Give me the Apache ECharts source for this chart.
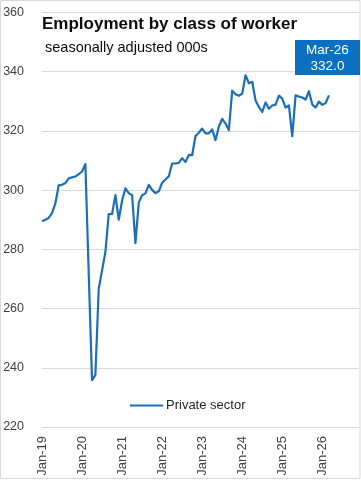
<!DOCTYPE html>
<html><head><meta charset="utf-8">
<script src="https://cdn.jsdelivr.net/npm/echarts@6/dist/echarts.min.js"></script>
<style>html,body{margin:0;padding:0;background:#fff}#c{width:361px;height:481px}</style>
</head><body><div id="c"></div>
<script>
var titleText = "Employment by class of worker";
var subtitleText = "seasonally adjusted 000s";
var seriesName = "Private sector";
var monthNames = ["Jan","Feb","Mar","Apr","May","Jun","Jul","Aug","Sep","Oct","Nov","Dec"];
var startYear = 2019, endYear = 2026;
var yTicks = [220, 240, 260, 280, 300, 320, 340, 360];
var privateSector = [
  289.5, 290.0, 290.6, 292.2, 295.5, 301.6, 301.8, 302.4, 304.0, 304.3, 304.6, 305.4,
  306.3, 308.8, 272.0, 235.8, 237.6, 266.7, 272.9, 279.1, 291.9, 292.0, 298.3, 290.0,
  296.5, 300.6, 299.0, 298.3, 282.1, 295.8, 298.3, 298.9, 301.8, 300.1, 299.0, 299.6,
  302.5, 303.6, 304.7, 309.0, 309.0, 309.2, 310.8, 309.5, 311.9, 311.8, 318.3, 319.4,
  320.8, 319.2, 319.2, 320.5, 316.9, 321.4, 324.1, 322.5, 320.3, 333.6, 332.4, 331.9,
  332.6, 338.8, 336.1, 336.6, 330.3, 328.1, 326.4, 329.6, 327.5, 328.6, 328.9, 331.9,
  330.9, 327.9, 328.6, 318.2, 332.0, 331.6, 331.3, 330.6, 333.4, 328.9, 327.9, 329.9,
  328.8, 329.4, 332.0
];

var categories = [];
for (var y = startYear; y <= endYear; y++) {
  for (var m = 0; m < 12; m++) categories.push(monthNames[m] + "-" + String(y).slice(2));
}
var lastIdx = privateSector.length - 1;
var lastLabel = categories[lastIdx];
var lastValue = privateSector[lastIdx].toFixed(1);

var chart = echarts.init(document.getElementById('c'), null, {renderer: 'canvas'});
var font = "'Liberation Sans', Arial, sans-serif";
chart.setOption({
  animation: false,
  textStyle: {fontFamily: font},
  title: [
    {text: titleText, left: 42, top: 16, padding: 0, textStyle: {fontSize: 17, fontWeight: 'bold', color: '#0d0d0d', fontFamily: font}},
    {text: subtitleText, left: 45, top: 40, padding: 0, textStyle: {fontSize: 14.5, fontWeight: 'normal', color: '#0d0d0d', fontFamily: font}}
  ],
  grid: {left: 42, right: 2, top: 12.5, bottom: 54, containLabel: false},
  legend: {
    data: [seriesName], left: 130, top: 399, padding: 0, icon: 'rect', itemWidth: 33, itemHeight: 2, itemGap: 4,
    textStyle: {fontSize: 13, color: '#262626', fontFamily: font, padding: [0,0,0,-2]}
  },
  xAxis: {
    type: 'category', data: categories, boundaryGap: false,
    axisLine: {show: false}, axisTick: {show: false},
    axisLabel: {
      rotate: 90, margin: 9, fontSize: 13, color: '#404040', fontFamily: font,
      interval: function (idx) { return idx % 12 === 0; }
    },
    splitLine: {show: false}
  },
  yAxis: {
    type: 'value', min: yTicks[0], max: yTicks[yTicks.length - 1], interval: 20,
    axisLine: {show: false}, axisTick: {show: false},
    axisLabel: {fontSize: 12.5, color: '#404040', margin: 18, fontFamily: font},
    splitLine: {lineStyle: {color: '#D9D9D9', width: 1}}
  },
  series: [{
    name: seriesName, type: 'line', data: privateSector,
    symbol: 'none', showSymbol: false,
    lineStyle: {color: '#1A6EBA', width: 2.2, join: 'round'},
    itemStyle: {color: '#1A6EBA'}
  }],
  graphic: [
    {type: 'rect', shape: {x: 0.5, y: 0.5, width: 359.5, height: 478}, style: {fill: 'none', stroke: '#D9D9D9', lineWidth: 1}, silent: true},
    {type: 'rect', shape: {x: 295, y: 40, width: 65, height: 35}, style: {fill: '#0A70BF'}, z: 10},
    {type: 'text', x: 327.5, y: 50, z: 11, style: {text: lastLabel, fill: '#fff', font: "13.5px " + font, align: 'center', verticalAlign: 'middle'}},
    {type: 'text', x: 327.5, y: 66, z: 11, style: {text: lastValue, fill: '#fff', font: "13.5px " + font, align: 'center', verticalAlign: 'middle'}}
  ]
});
</script></body></html>
